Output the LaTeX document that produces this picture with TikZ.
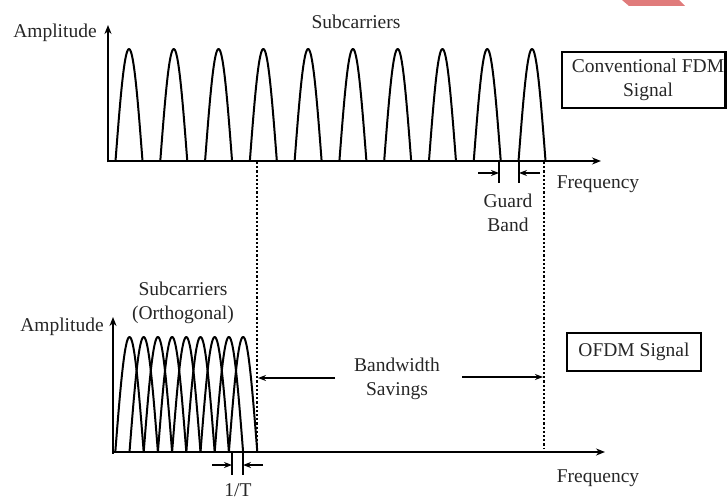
\documentclass[tikz,border=0pt]{standalone}
\usepackage{fontspec}
\setmainfont{Liberation Serif}
\usetikzlibrary{arrows.meta}
\definecolor{wm}{HTML}{E07B7B}
\begin{document}
\begin{tikzpicture}[x=1pt,y=-1pt,
  lbl/.style={font=\fontsize{19.5}{23.5}\selectfont, text=black!85, inner sep=0pt, align=center},
  axis/.style={line width=2.5pt, -{Stealth[length=9pt,width=7pt]}},
  carrier/.style={line width=2pt, line join=round},
  guide/.style={line width=1.6pt, dash pattern=on 2.2pt off 2pt},
  dimarrow/.style={line width=1.6pt, -{Stealth[length=8pt,width=6pt]}},
  tick/.style={line width=1.5pt},
  framebox/.style={draw, line width=2.2pt, inner sep=0pt}]
\useasboundingbox (0,0) rectangle (727,502);
% watermark fragment
\fill[wm] (622,0) -- (679,0) -- (685,6) -- (629,6) -- cycle;

% ---------- top panel ----------
\coordinate (tO) at (108,161);
\coordinate (tY) at (108,25);
\coordinate (tX) at (601,161);
\draw[axis] (108,162.5) -- (tY);
\draw[axis] (tO) -- (tX);
\foreach \k in {0,...,9}{
  \pgfmathsetmacro{\c}{129+44.78*\k}
  \draw[carrier] plot[domain=0:1, samples=40, smooth] ({\c-13.5+27*\x},{161-112*sin(180*\x)});
}
\node[lbl] (ampt) at (55,33) {Amplitude};
\node[lbl] (subt) at (356,22) {Subcarriers};
\node[lbl] (freqt) at (598,184) {Frequency};
\node[lbl] (guard) at (508,213) {Guard\\Band};
\draw[framebox] (562,52) rectangle (725.5,108);
\node[lbl] (fdm) at (648,80) {Conventional FDM\\Signal};
% guard band marks
\coordinate (g1t) at (499,161); \coordinate (g1b) at (499,183);
\coordinate (g2t) at (519,161); \coordinate (g2b) at (519,183);
\draw[tick] (g1t) -- (g1b);
\draw[tick] (g2t) -- (g2b);
\coordinate (ga) at (478,173); \coordinate (gat) at (499,173);
\coordinate (gb) at (540,173); \coordinate (gbt) at (519,173);
\draw[dimarrow] (ga) -- (gat);
\draw[dimarrow] (gb) -- (gbt);

% dotted guides
\coordinate (d1t) at (257,162); \coordinate (d1b) at (257,450);
\coordinate (d2t) at (544,162); \coordinate (d2b) at (544,449);
\draw[guide] (d1t) -- (d1b);
\draw[guide] (d2t) -- (d2b);

% ---------- bottom panel ----------
\coordinate (bO) at (113,452);
\coordinate (bY) at (113,317);
\coordinate (bX) at (605,452);
\draw[axis] (113,453.5) -- (bY);
\draw[axis] (bO) -- (bX);
\foreach \k in {0,...,8}{
  \pgfmathsetmacro{\c}{129.5+14.2*\k}
  \draw[carrier] plot[domain=0:1, samples=40, smooth] ({\c-14.2+28.4*\x},{452-115*sin(180*\x)});
}
\node[lbl] (ampb) at (62,327) {Amplitude};
\node[lbl] (subb) at (183,303) {Subcarriers\\(Orthogonal)};
\node[lbl] (bw) at (397,379) {Bandwidth\\Savings};
\node[framebox, minimum width=134pt, minimum height=38pt] (ofdm) at (634,352) {};
\node[lbl] at (ofdm.center) {OFDM Signal};
\node[lbl] (freqb) at (598,478) {Frequency};
\node[lbl] (tinv) at (238,490) {1/T};
% bandwidth arrows
\coordinate (bwl) at (335,378); \coordinate (bwlt) at (258,378);
\coordinate (bwr) at (462,377); \coordinate (bwrt) at (543,377);
\draw[dimarrow, line width=1.8pt] (bwl) -- (bwlt);
\draw[dimarrow, line width=1.8pt] (bwr) -- (bwrt);
% 1/T marks
\coordinate (t1t) at (232,452); \coordinate (t1b) at (232,475);
\coordinate (t2t) at (243,452); \coordinate (t2b) at (243,475);
\draw[tick] (t1t) -- (t1b);
\draw[tick] (t2t) -- (t2b);
\coordinate (ta) at (212,465); \coordinate (tat) at (232,465);
\coordinate (tb) at (263,465); \coordinate (tbt) at (243,465);
\draw[dimarrow] (ta) -- (tat);
\draw[dimarrow] (tb) -- (tbt);
\end{tikzpicture}
\end{document}
